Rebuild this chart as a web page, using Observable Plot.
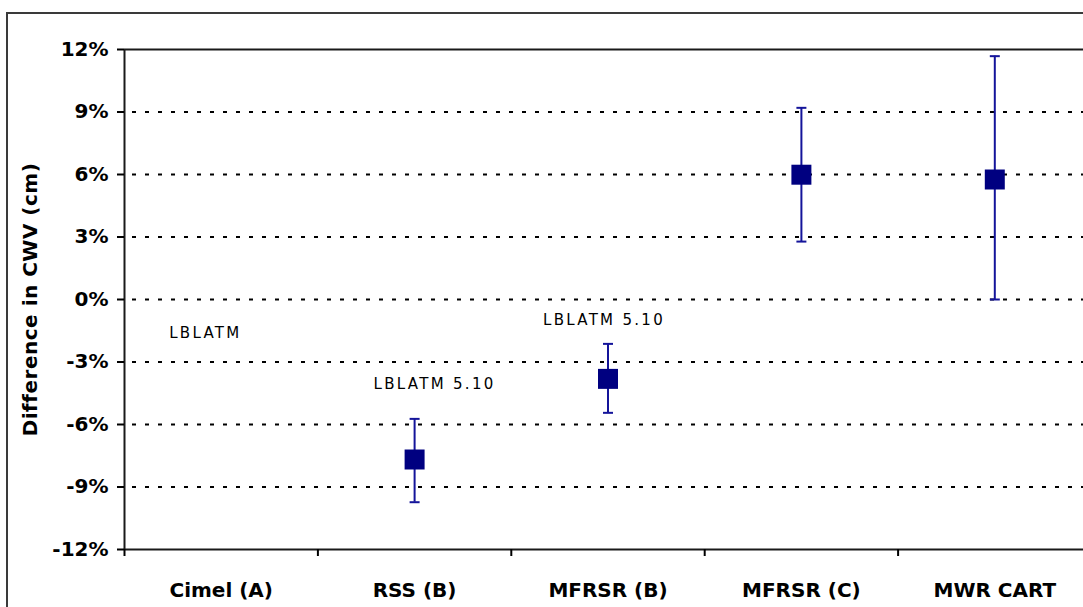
<!DOCTYPE html>
<html>
<head>
<meta charset="utf-8">
<script src="https://cdn.jsdelivr.net/npm/d3@7"></script>
<script src="https://cdn.jsdelivr.net/npm/@observablehq/plot@0.6"></script>
<style>
html, body { margin: 0; padding: 0; background: #fff; overflow: hidden; }
#wrap { position: relative; width: 1083px; height: 607px; overflow: hidden; }
#frame { position: absolute; left: 6px; top: 12px; width: 1200px; height: 800px; border: 2px solid #3a3a3a; pointer-events: none; }
</style>
</head>
<body>
<div id="wrap"><div id="frame"></div></div>
<script>
// ---- data ----
const categories = ["Cimel (A)", "RSS (B)", "MFRSR (B)", "MFRSR (C)", "MWR CART"];
const values = [null, -7.68, -3.81, 5.99, 5.76];
const lows   = [null, -9.73, -5.44, 2.78, 0.0];
const highs  = [null, -5.73, -2.13, 9.20, 11.68];
const yTicks = [-12, -9, -6, -3, 0, 3, 6, 9, 12];
const gridTicks = [-9, -6, -3, 0, 3, 6, 9];
const yLabel = "Difference in CWV (cm)";
const annoCats  = ["Cimel (A)", "RSS (B)", "MFRSR (B)"];
const annoTexts = ["LBLATM", "LBLATM 5.10", "LBLATM 5.10"];
const annoY     = [-1.63, -4.08, -1.0];

// ---- derived tables ----
const rows = categories.map((c, i) => ({i, cat: c, v: values[i], lo: lows[i], hi: highs[i]}))
  .filter(d => d.v != null);
const annos = annoCats.map((c, k) => ({i: categories.indexOf(c), y: annoY[k], text: annoTexts[k]}));
const xDomain = [-0.5, categories.length - 0.5];
const boundaries = d3.range(categories.length).map(i => i - 0.5);

const navy = "#000080";
const barColor = "#14149a";
const capSymbol = {
  draw(ctx, size) {
    const w = Math.sqrt(size / Math.PI);
    ctx.moveTo(-w, 0);
    ctx.lineTo(w, 0);
  }
};
const font = "DejaVu Sans";

const annoOffsets = [-52, -41, -65];

const chart = Plot.plot({
  width: 1083,
  height: 607,
  marginLeft: 124,
  marginRight: 0,
  marginTop: 49,
  marginBottom: 58,
  style: {fontFamily: font, background: "transparent", color: "#000"},
  x: {type: "linear", domain: xDomain, range: [124, 1091]},
  y: {domain: [-12, 12]},
  marks: [
    Plot.ruleY(gridTicks, {stroke: "#000", strokeWidth: 2, strokeDasharray: "4,9", strokeDashoffset: -8}),
    Plot.ruleY([yTicks[0], yTicks[yTicks.length - 1]], {stroke: "#1a1a1a", strokeWidth: 2}),
    Plot.ruleX([xDomain[0]], {y1: yTicks[0], y2: yTicks[yTicks.length - 1], stroke: "#1a1a1a", strokeWidth: 2}),
    Plot.axisY({ticks: yTicks, tickFormat: d => d + "%", tickSize: 7, tickPadding: 9, strokeWidth: 2,
      fontSize: 20, fontWeight: "bold", fontFamily: font, label: null}),
    Plot.axisX({ticks: boundaries, tickSize: 7, tickFormat: () => "", strokeWidth: 2, label: null}),
    Plot.axisX({ticks: d3.range(categories.length), tickSize: 0, tickPadding: 33,
      tickFormat: i => categories[i], fontSize: 20, fontWeight: "bold", fontFamily: font, label: null}),
    Plot.text([yLabel], {frameAnchor: "left", rotate: -90, dx: -94, fontSize: 20, fontWeight: "bold",
      fontFamily: font, textAnchor: "middle", fill: "#000"}),
    Plot.ruleX(rows, {x: "i", y1: "lo", y2: "hi", stroke: barColor, strokeWidth: 2}),
    Plot.dot(rows, {x: "i", y: "hi", symbol: capSymbol, r: 5, stroke: barColor, strokeWidth: 2, fill: "none"}),
    Plot.dot(rows, {x: "i", y: "lo", symbol: capSymbol, r: 5, stroke: barColor, strokeWidth: 2, fill: "none"}),
    Plot.dot(rows, {x: "i", y: "v", symbol: "square", r: 11.28, fill: navy, stroke: "none"}),
    ...annos.map((a, k) => Plot.text([a], {x: "i", y: "y", text: "text", dx: annoOffsets[k], textAnchor: "start",
      fontSize: 15, fontFamily: font, fill: "#000"}))
  ]
});
d3.select(chart).selectAll("text")
  .filter(function() { return annoTexts.includes(this.textContent); })
  .style("letter-spacing", "2.3px");
d3.select(chart).selectAll("text")
  .filter(function() { return yLabel === this.textContent; })
  .style("letter-spacing", "0.5px");
document.getElementById("wrap").prepend(chart);
</script>
</body>
</html>
